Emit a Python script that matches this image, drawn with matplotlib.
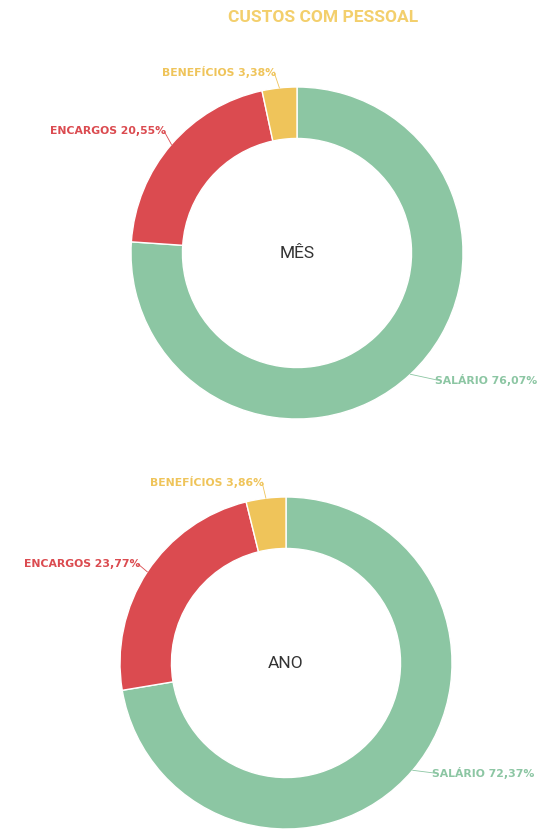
import matplotlib
matplotlib.use("Agg")
import matplotlib.pyplot as plt
import numpy as np

categories = ["SALÁRIO", "ENCARGOS", "BENEFÍCIOS"]
mes_values = [76.07, 20.55, 3.38]
ano_values = [72.37, 23.77, 3.86]
colors = ["#8cc6a3", "#db4b50", "#efc45a"]
title = "CUSTOS COM PESSOAL"

W, H = 540, 830
fig = plt.figure(figsize=(W / 100, H / 100), dpi=100)
ax = fig.add_axes([0, 0, 1, 1])

def donut(values, center_px, radius, label_pos, center_text):
    cx, cy = center_px[0], H - center_px[1]
    wedges, _ = ax.pie(values, colors=colors, startangle=90, counterclock=False,
                       radius=radius, center=(cx, cy),
                       wedgeprops=dict(width=radius * 0.31, edgecolor="white", linewidth=1))
    ax.text(cx, cy, center_text, ha="center", va="center", fontsize=12.5,
            color="#333333", family="Roboto")
    for w, cat, val, (lx, ly, ha) in zip(wedges, categories, values, label_pos):
        ang = np.deg2rad((w.theta1 + w.theta2) / 2)
        ex = cx + radius * np.cos(ang)
        ey = cy + radius * np.sin(ang)
        ly2 = H - ly
        px = lx - 2 if ha == "right" else lx + 2
        ax.plot([ex, px], [ey, ly2], color=w.get_facecolor(), lw=0.6)
        txt = f"{cat} {val:.2f}%".replace(".", ",")
        ax.text(lx, ly2, txt, ha=ha, va="center", fontsize=7.8, fontweight="bold",
                color=w.get_facecolor(), family="DejaVu Sans")

donut(mes_values, (297, 253), 166,
      [(435, 380, "left"), (166, 131, "right"), (276, 72, "right")], "MÊS")
donut(ano_values, (286, 663), 166,
      [(432, 773, "left"), (140, 564, "right"), (264, 482, "right")], "ANO")

ax.text(323, H - 18, title, ha="center", va="center", fontsize=12.5,
        fontweight="bold", color="#f3cf6c", family="Roboto")

ax.set_xlim(0, W)
ax.set_ylim(0, H)
ax.set_aspect("auto")
ax.axis("off")
fig.savefig("out.png", dpi=100, facecolor="white")
